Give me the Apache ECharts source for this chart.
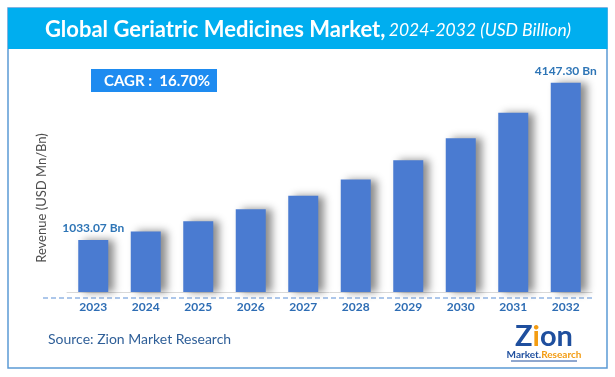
<!DOCTYPE html>
<html>
<head>
<meta charset="utf-8">
<script src="https://cdn.jsdelivr.net/npm/echarts@6/dist/echarts.min.js"></script>
<style>
  html, body { margin: 0; padding: 0; background: #fff; }
  #main { width: 615px; height: 377px; }
</style>
</head>
<body>
<div id="main"></div>
<script>
// data
var years = ['2023', '2024', '2025', '2026', '2027', '2028', '2029', '2030', '2031', '2032'];
var revenue = [1033.07, 1200, 1405, 1640, 1910, 2230, 2610, 3050, 3555, 4147.30];
var labelled = [0, 9]; // only first and last bars carry a value label

var chart = echarts.init(document.getElementById('main'), null, { renderer: 'canvas' });

var font = 'Lato, "Open Sans", sans-serif';

// build bar items, labels on first and last
var barData = revenue.map(function (v, i) {
    var item = { value: v };
    if (labelled.indexOf(i) >= 0) {
        item.label = {
            show: true,
            position: 'top',
            distance: 6,
            formatter: function (p) { return p.value.toFixed(2) + ' Bn'; },
            color: '#2e75b6',
            fontWeight: 'bold',
            fontSize: 12,
            fontFamily: font
        };
    }
    return item;
});

var option = {
    animation: false,
    backgroundColor: '#fff',
    grid: {
        left: 67,
        right: 23,
        top: 65,
        bottom: 85
    },
    xAxis: {
        type: 'category',
        data: years,
        axisLine: { show: true, lineStyle: { color: '#d9d9d9', width: 1 } },
        axisTick: { show: false },
        axisLabel: {
            margin: 9,
            color: '#2e6db4',
            fontWeight: 'bold',
            fontSize: 12,
            fontFamily: font
        }
    },
    yAxis: {
        type: 'value',
        min: 0,
        max: 4500,
        show: false,
        splitLine: { show: false }
    },
    series: [{
        type: 'bar',
        data: barData,
        barWidth: 30,
        itemStyle: {
            color: '#4a7bd1',
            shadowColor: 'rgba(0,0,0,0.45)',
            shadowBlur: 8,
            shadowOffsetX: 6,
            shadowOffsetY: 0
        }
    }],
    graphic: [
        // outer border
        {
            type: 'rect',
            z: 0,
            shape: { x: 8, y: 8, width: 599, height: 360 },
            style: { fill: 'none', stroke: '#5b9bd5', lineWidth: 1.5 }
        },
        // title bar
        {
            type: 'rect',
            z: 1,
            shape: { x: 8, y: 8, width: 599.5, height: 41 },
            style: { fill: '#00aeef' }
        },
        {
            type: 'text',
            z: 2,
            x: 308,
            y: 30,
            style: {
                text: '{b|Global Geriatric Medicines Market,} {i|2024-2032 (USD Billion)}',
                align: 'center',
                verticalAlign: 'middle',
                rich: {
                    b: { fontSize: 22, fontWeight: 'bold', fill: '#fff', fontFamily: font },
                    i: { fontSize: 17.5, fontStyle: 'italic', fill: '#fff', fontFamily: font }
                }
            }
        },
        // CAGR box
        {
            type: 'rect',
            z: 1,
            shape: { x: 91, y: 69, width: 126, height: 23 },
            style: { fill: '#1e8bf0' }
        },
        {
            type: 'text',
            z: 2,
            x: 157,
            y: 81,
            style: {
                text: 'CAGR :  16.70%',
                align: 'center',
                verticalAlign: 'middle',
                fill: '#fff',
                fontSize: 15,
                fontWeight: 'bold',
                fontFamily: font
            }
        },
        // y axis title
        {
            type: 'text',
            z: 2,
            x: 42,
            y: 198,
            rotation: Math.PI / 2,
            style: {
                text: 'Revenue (USD Mn/Bn)',
                align: 'center',
                verticalAlign: 'middle',
                fill: '#4d4d4d',
                fontSize: 13,
                fontFamily: font
            }
        },
        // dashed baseline
        {
            type: 'line',
            z: 2,
            shape: { x1: 43, y1: 298, x2: 592, y2: 298 },
            style: { stroke: '#5b8fd6', lineWidth: 1, lineDash: [5, 3] }
        },
        // source
        {
            type: 'text',
            z: 2,
            x: 48,
            y: 339,
            style: {
                text: 'Source: Zion Market Research',
                verticalAlign: 'middle',
                fill: '#2f5f98',
                fontSize: 14,
                fontFamily: font
            }
        },
        // logo
        {
            type: 'text',
            z: 2,
            x: 544,
            y: 337,
            style: {
                text: '{z|Z}{s|i}{z|on}',
                align: 'center',
                verticalAlign: 'middle',
                rich: {
                    z: { fontSize: 29, fontWeight: 'bold', fill: '#1f4f9e', fontFamily: font },
                    s: { fontSize: 29, fontWeight: 'bold', fill: '#f39c12', fontFamily: font }
                }
            }
        },
        {
            type: 'text',
            z: 2,
            x: 544,
            y: 355,
            style: {
                text: '{m|Market.}{r|Research}',
                align: 'center',
                verticalAlign: 'middle',
                rich: {
                    m: { fontSize: 10, fontWeight: 'bold', fill: '#1f4f9e', fontFamily: font },
                    r: { fontSize: 10, fontWeight: 'bold', fill: '#f39c12', fontFamily: font }
                }
            }
        },
        {
            type: 'line',
            z: 2,
            shape: { x1: 511, y1: 361, x2: 577, y2: 361 },
            style: { stroke: '#1f4f9e', lineWidth: 1 }
        }
    ]
};

chart.setOption(option);
</script>
</body>
</html>
